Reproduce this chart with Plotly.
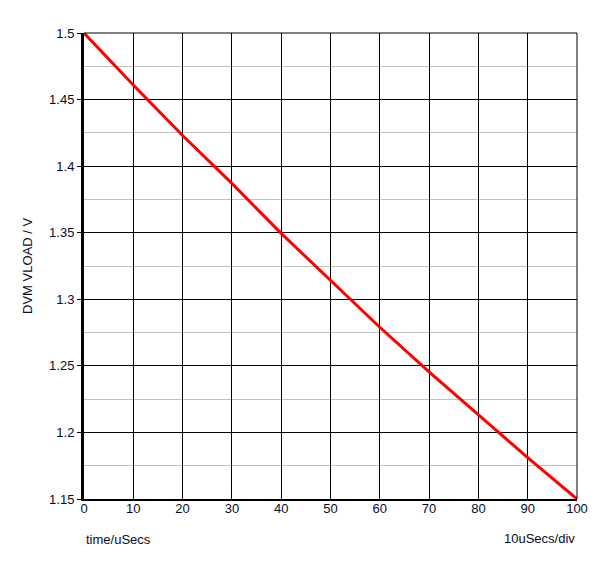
import plotly.graph_objects as go

time_us = [0, 10, 20, 30, 40, 50, 60, 70, 80, 90, 100]
vload = [1.5, 1.461, 1.423, 1.387, 1.3495, 1.3144, 1.279, 1.2455, 1.213, 1.181, 1.15]

x_ticks = [0, 10, 20, 30, 40, 50, 60, 70, 80, 90, 100]
y_ticks = [1.15, 1.2, 1.25, 1.3, 1.35, 1.4, 1.45, 1.5]
y_tick_text = ["1.15", "1.2", "1.25", "1.3", "1.35", "1.4", "1.45", "1.5"]

TXT = "#0a0a28"
FONT = "Liberation Sans, Arial, sans-serif"
FS = 13

fig = go.Figure()
fig.add_trace(go.Scatter(x=time_us, y=vload, mode="lines",
                         line=dict(color="#ff0000", width=3), showlegend=False,
                         cliponaxis=False))

# page body has an 8px margin; figure is sized/offset to compensate
fig.update_layout(
    width=592, height=555,
    margin=dict(l=76, r=14, t=25, b=64),
    paper_bgcolor="white", plot_bgcolor="white",
    font=dict(family=FONT, size=FS, color=TXT),
    xaxis=dict(range=[0, 100], tickvals=x_ticks, ticktext=[str(v) for v in x_ticks],
               showgrid=True, gridcolor="black", gridwidth=1,
               showline=True, linecolor="black", linewidth=2, mirror=False,
               zeroline=False, ticks="", ticklabelstandoff=-4,
               tickfont=dict(family=FONT, size=FS, color=TXT)),
    yaxis=dict(range=[1.15, 1.5], tickvals=y_ticks, ticktext=y_tick_text,
               showgrid=True, gridcolor="black", gridwidth=1,
               minor=dict(dtick=0.025, tick0=1.15, showgrid=True, gridcolor="#c0c0c0", gridwidth=1),
               showline=True, linecolor="black", linewidth=3,
               zeroline=False, ticks="outside", ticklen=4, tickcolor="black",
               ticklabelstandoff=0,
               tickfont=dict(family=FONT, size=FS, color=TXT)),
    shapes=[
        dict(type="line", xref="paper", yref="paper", x0=1, x1=1, y0=0, y1=1,
             line=dict(color="black", width=1)),
        dict(type="line", xref="paper", yref="paper", x0=0, x1=1, y0=1, y1=1,
             line=dict(color="black", width=1)),
    ],
    annotations=[
        dict(text="DVM VLOAD / V", xref="paper", yref="paper", x=0, y=0.5,
             xanchor="center", yanchor="middle", xshift=-57, textangle=-90,
             showarrow=False, font=dict(family=FONT, size=FS, color=TXT)),
        dict(text="time/uSecs", xref="paper", yref="paper", x=0, y=0,
             xanchor="left", yanchor="middle", yshift=-40,
             showarrow=False, font=dict(family=FONT, size=FS, color=TXT)),
        dict(text="10uSecs/div", xref="paper", yref="paper", x=1, y=0,
             xanchor="right", yanchor="middle", yshift=-39,
             showarrow=False, font=dict(family=FONT, size=FS, color=TXT)),
    ],
)

fig.write_html("out.html")
